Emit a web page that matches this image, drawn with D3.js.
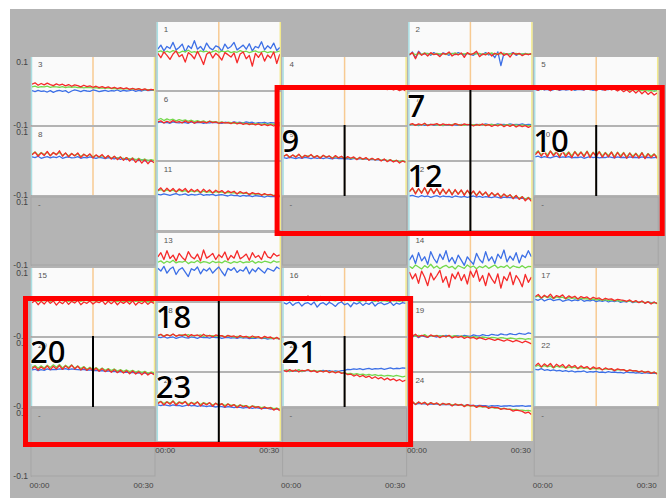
<!DOCTYPE html>
<html>
<head>
<meta charset="utf-8">
<script src="https://cdn.jsdelivr.net/npm/d3@7"></script>
<style>
  body { margin: 0; background: #fff; }
  svg { display: block; font-family: "Liberation Sans", Arial, sans-serif; }
</style>
</head>
<body>
<div id="chart"></div>
<script>
// Trellis layout: panel id per column, top to bottom (null = empty "-" panel)
const columns = [
  [3, 8, null, 15, 20, null],
  [1, 6, 11, 13, 18, 23],
  [4, 9, null, 16, 21, null],
  [2, 7, 12, 14, 19, 24],
  [5, 10, null, 17, 22, null],
];
const timeTicks = ["00:00", "00:30"];
const yTicks = [-0.1, 0.1];
const sampleSeconds = 45;

// marked panels (black line at 00:15 + big number)
const markerGroups = [[9], [7, 12], [10], [20], [18, 23], [21]];
const boxGroups = [[9, 7, 12, 10], [20, 18, 23, 21]];

// values in thousandths, panel 1..24
const red = [
  [8,-5,12,2,-10,6,15,-2,4,-18,10,3,-8,14,-4,-25,5,12,-6,8,0,-12,10,4,-3,9,-20,6,12,-8,2,-30,8,-4,10,-15,3,-6,12,-22,5],
  [4,10,-8,12,2,8,0,10,4,6,-2,8,5,12,0,6,3,9,-4,10,4,7,14,-2,6,3,10,0,8,4,11,2,7,-3,9,5,8,1,6,4,7],
  [20,24,17,22,18,23,19,16,21,17,20,15,19,14,18,16,12,17,13,15,11,14,10,13,9,12,8,11,7,10,6,9,5,8,4,7,3,6,2,5,3],
  [10,7,12,8,11,6,10,9,12,7,11,8,10,6,12,9,11,7,10,8,12,9,7,11,8,10,6,12,8,10,7,11,5,9,4,8,3,6,1,5,0],
  [6,2,8,4,7,1,9,5,3,8,4,6,2,9,5,7,3,8,4,6,1,7,5,2,8,3,6,0,5,-2,4,-4,3,-6,2,-8,0,-10,-3,-12,-6],
  [12,15,9,14,10,16,11,13,9,15,10,14,8,13,11,12,9,14,10,12,8,11,9,10,7,11,6,9,5,8,4,7,3,6,2,5,1,4,0,3,0],
  [4,7,2,6,3,8,1,5,4,7,2,6,3,5,1,7,4,2,6,3,5,0,4,2,6,1,4,-1,3,0,5,-2,3,-1,4,-3,2,-2,1,-4,0],
  [18,26,14,24,16,28,15,25,18,30,14,24,12,22,15,24,10,20,13,21,9,18,12,19,8,16,6,14,4,12,2,10,0,8,-4,6,-6,4,-8,2,-5],
  [13,19,10,18,11,20,9,17,12,19,10,16,8,17,11,15,7,16,9,14,6,13,8,12,4,11,5,10,2,8,3,7,0,6,-2,4,-3,2,-6,0,-4],
  [18,28,14,27,12,29,15,26,11,28,13,25,10,27,14,26,12,28,10,25,13,27,11,24,12,26,9,25,11,24,8,23,10,22,9,24,7,21,10,20,8],
  [16,24,13,23,14,22,12,21,15,22,11,20,13,19,10,20,12,18,9,17,11,16,8,15,10,14,6,13,8,11,4,10,6,8,2,7,3,5,0,4,-1],
  [12,24,6,22,8,25,5,23,7,22,4,21,6,20,3,19,5,18,2,17,4,15,0,14,2,12,-2,10,0,8,-5,6,-3,4,-8,2,-10,-2,-14,-5,-16],
  [30,42,22,48,25,35,18,40,28,20,45,30,24,38,18,50,26,32,40,22,36,28,44,20,34,26,48,24,30,38,20,42,28,34,22,46,30,26,40,32,36],
  [-15,-35,-20,-48,-12,-30,-55,-18,-38,-25,-10,-45,-28,-60,-20,-35,-15,-40,-22,-50,-12,-30,-8,-42,-25,-55,-18,-35,-48,-20,-62,-28,-40,-15,-52,-25,-38,-58,-22,-45,-30],
  [-2,4,-8,2,-6,5,-4,3,-9,1,-5,4,-7,2,-3,5,-8,0,-4,3,-6,1,-2,4,-7,2,-5,3,-8,1,-4,2,-6,3,-9,0,-5,2,-7,1,-4],
  [12,6,16,8,14,4,15,10,18,7,13,5,16,9,12,3,14,8,11,2,13,7,10,4,15,6,12,3,9,5,14,2,10,6,8,1,12,4,9,3,7],
  [16,22,12,20,14,23,11,19,15,21,10,18,13,17,9,16,12,15,8,14,10,12,6,11,8,9,4,8,6,5,2,6,0,4,-2,3,-4,1,-6,0,-5],
  [4,8,1,7,3,9,2,6,4,8,0,7,3,6,1,8,2,5,0,6,3,4,-1,5,1,3,-2,4,0,2,-3,3,-1,1,-4,2,-2,0,-6,-1,-7],
  [6,2,8,0,5,3,-1,6,2,4,-2,3,0,5,-3,1,-1,2,-4,0,-3,-1,-6,-2,-5,-8,-4,-7,-10,-6,-9,-12,-8,-11,-14,-10,-13,-17,-12,-16,-20],
  [10,16,6,15,8,18,7,17,9,19,8,18,10,20,9,17,6,14,5,12,3,11,2,10,1,8,-1,7,-2,5,-3,4,-5,3,-6,1,-8,0,-9,-2,-8],
  [5,1,7,2,6,0,5,3,7,1,4,-1,3,0,4,-2,2,-3,1,-4,-2,-8,-6,-12,-8,-14,-10,-16,-12,-19,-14,-20,-16,-23,-18,-24,-20,-26,-22,-28,-24],
  [18,26,15,24,17,25,13,23,16,22,12,21,14,19,10,18,12,16,8,15,10,13,6,12,8,10,4,9,6,7,2,6,3,4,0,3,-2,2,-4,0,-6],
  [10,16,6,15,8,17,5,14,9,16,4,13,7,15,3,12,6,13,2,11,4,10,0,9,2,7,-2,6,0,4,-4,3,-2,1,-6,0,-4,-2,-9,-4,-11],
  [10,16,7,15,9,14,6,13,8,12,5,11,7,10,3,9,5,8,1,7,3,5,-1,4,1,2,-4,0,-2,-2,-7,-4,-6,-7,-12,-9,-11,-13,-18,-15,-22],
];
const green = [
  [12,15,10,14,11,16,13,9,14,12,17,11,13,10,15,12,14,9,13,16,11,14,12,15,10,13,11,16,12,14,10,13,15,11,12,14,10,13,11,12,14],
  [6,8,4,7,5,9,6,7,5,8,6,7,4,8,6,9,5,7,6,8,5,7,6,8,4,7,6,9,5,7,6,8,5,7,6,8,5,6,7,6,5],
  [12,14,11,13,12,14,11,13,12,11,13,10,12,11,12,10,11,9,11,10,9,10,8,9,8,9,7,8,6,7,6,7,5,6,5,6,4,5,4,4,3],
  [9,11,8,10,9,12,8,10,11,9,8,10,9,11,8,10,9,12,10,8,9,11,10,8,9,10,8,11,9,10,8,9,10,8,9,10,7,9,8,9,8],
  [5,7,4,8,6,5,7,4,6,8,5,7,6,4,8,5,7,6,4,7,5,8,6,4,7,5,6,3,7,4,6,2,5,3,4,1,3,0,2,-1,1],
  [18,22,16,21,17,20,15,19,16,18,14,17,13,16,12,15,11,14,12,13,10,12,9,11,10,8,10,7,9,6,8,5,7,6,5,7,4,6,5,4,5],
  [3,5,2,4,3,6,2,4,5,3,4,2,5,3,4,6,3,4,2,5,3,4,2,5,3,4,3,5,2,4,3,2,4,3,2,3,1,3,2,1,2],
  [20,27,17,25,19,26,16,24,20,25,17,23,15,22,16,21,13,20,14,19,12,17,11,16,9,15,8,13,7,12,5,10,4,9,3,8,2,6,1,4,2],
  [15,18,12,17,13,19,11,16,14,17,12,15,10,16,12,14,9,13,10,12,8,11,7,10,6,9,5,8,4,7,3,6,2,5,1,3,0,2,-1,1,-2],
  [22,30,18,29,17,30,19,28,16,29,18,27,15,28,17,27,16,29,14,26,17,28,15,25,16,27,13,26,15,25,12,24,14,23,13,25,11,22,14,21,12],
  [15,19,13,18,14,17,12,17,13,16,11,15,12,15,10,14,11,13,9,13,10,12,8,11,9,10,7,9,8,8,6,7,5,6,4,5,3,4,2,3,2],
  [14,22,9,21,10,23,8,21,9,20,7,19,8,18,6,17,7,16,5,15,6,13,3,12,4,10,1,9,2,7,-2,5,-1,3,-5,1,-7,-2,-10,-4,-12],
  [14,18,11,17,13,20,12,16,14,18,10,15,13,19,12,16,14,11,17,13,15,12,18,14,11,16,13,17,12,15,14,18,11,16,13,17,15,12,18,14,16],
  [2,-4,6,0,-6,4,-2,8,-3,3,-5,1,5,-2,2,-6,4,0,-4,6,-1,3,-5,2,-2,4,-4,1,6,-3,2,-1,5,-4,3,0,-2,4,-3,2,1],
  [4,6,2,5,3,7,2,5,4,6,3,5,2,4,3,6,2,5,4,3,5,2,4,3,5,2,4,3,1,4,2,3,1,4,2,3,1,3,0,2,1],
  [6,4,8,3,7,5,9,4,6,8,5,3,7,6,4,8,5,3,6,4,7,5,3,6,4,2,5,3,6,4,2,5,3,4,2,5,3,4,2,4,3],
  [14,18,11,17,13,16,10,15,12,14,9,13,11,12,8,11,9,10,7,9,6,8,5,7,4,6,3,5,2,4,1,3,0,2,-1,1,-2,0,-3,-2,-4],
  [5,7,3,6,4,8,3,5,6,4,7,3,5,4,6,2,5,3,4,2,4,3,1,3,2,0,2,1,-1,1,0,-2,0,-1,-3,-1,-2,-4,-3,-5,-4],
  [4,6,2,5,3,7,1,4,3,5,2,4,1,3,2,4,0,3,1,2,-1,1,0,-2,0,-1,-3,-1,-2,-4,-2,-3,-5,-3,-4,-6,-4,-5,-7,-5,-6],
  [14,19,11,18,12,20,13,21,14,22,12,20,13,21,11,18,10,16,8,14,7,13,6,12,5,10,4,9,3,7,2,6,1,5,0,3,-1,2,-3,0,-2],
  [4,6,2,5,3,7,2,4,6,3,5,2,4,1,3,0,2,-1,1,-2,-3,-5,-4,-7,-5,-8,-6,-9,-7,-10,-8,-11,-9,-12,-10,-11,-13,-10,-12,-14,-12],
  [16,20,14,19,15,18,12,17,14,16,11,15,12,14,10,13,11,12,8,11,9,10,7,9,8,8,5,7,6,6,3,5,4,3,1,2,0,1,-2,-1,-3],
  [13,17,10,16,11,18,9,15,12,16,8,14,10,15,7,13,9,12,6,11,7,10,4,9,5,7,2,6,3,4,0,3,1,1,-2,0,-3,-1,-5,-3,-6],
  [12,15,9,14,10,13,8,12,9,11,7,10,8,9,6,8,7,6,4,5,3,4,1,2,0,1,-2,-1,-3,-3,-5,-4,-6,-6,-8,-7,-9,-9,-11,-10,-12],
];
const blue = [
  [20,32,15,28,22,40,18,25,35,12,30,22,45,20,28,16,38,24,18,30,26,14,35,22,28,40,18,25,32,20,36,15,28,24,42,18,30,22,38,16,25],
  [2,12,-6,14,4,6,8,2,10,5,3,9,6,2,8,4,10,6,3,8,5,2,9,6,4,10,3,7,-5,12,-28,8,4,6,10,2,7,5,8,4,6],
  [1,-2,2,-1,0,-3,1,-4,0,2,-1,1,-5,0,3,1,-2,2,0,-1,3,1,-2,0,2,-1,1,0,3,-1,2,0,1,3,-1,2,0,3,1,2,2],
  [8,10,6,9,11,7,9,8,10,6,9,11,8,7,10,9,8,6,10,9,7,11,8,9,10,7,9,8,11,10,8,9,10,12,9,10,8,11,9,10,9],
  [4,2,6,3,5,1,4,6,2,5,3,4,6,2,5,4,3,6,5,2,4,6,3,5,4,7,5,3,6,4,5,7,4,6,5,3,6,4,5,3,4],
  [10,12,9,11,8,12,10,9,11,10,8,12,9,10,11,8,10,9,11,10,9,8,11,10,9,12,10,11,9,12,10,11,8,10,9,11,8,10,9,8,9],
  [2,4,3,1,4,2,3,5,2,3,4,1,3,2,4,3,2,5,3,4,2,3,5,4,3,6,4,5,3,6,4,5,3,6,4,5,4,6,3,5,4],
  [12,10,14,8,11,13,9,12,10,14,8,11,12,9,10,13,8,11,9,12,10,8,11,9,7,10,8,6,9,5,8,4,6,3,5,1,4,0,2,-1,1],
  [10,8,11,9,7,10,8,11,9,7,10,8,9,7,10,8,6,9,7,8,6,7,5,8,6,7,5,6,4,5,3,4,2,3,1,2,0,1,-1,0,-2],
  [12,14,10,13,11,9,12,14,10,12,11,13,9,11,10,12,8,11,13,10,12,9,11,10,13,11,9,12,10,11,9,12,10,11,9,12,10,11,9,10,11],
  [5,3,6,4,2,5,7,3,4,6,2,5,3,4,6,2,4,3,5,1,3,4,2,0,3,1,2,-1,2,0,1,-2,1,0,-1,-3,0,-2,-1,-3,-2],
  [0,2,-1,-3,1,-2,0,-4,-1,1,-3,0,-2,-1,-4,0,-2,-3,-1,-4,-2,0,-3,-1,-4,-2,-3,-5,-2,-4,-6,-3,-5,-4,-6,-5,-7,-6,-8,-7,-8],
  [-4,-12,2,-18,-6,0,-22,-8,-2,-15,-28,-5,-10,0,-20,-6,-12,-3,-18,-8,0,-14,-26,-4,-10,-2,-16,-8,-12,0,-20,-6,-14,-2,-10,-18,-4,-8,-12,0,-6],
  [20,35,10,42,18,30,8,45,25,12,38,22,48,15,28,10,35,20,5,30,18,8,40,22,12,45,18,30,10,38,25,50,15,32,20,42,12,35,28,48,30],
  [10,8,12,7,9,11,8,10,13,9,7,10,8,11,9,7,10,8,6,9,7,8,5,7,6,8,4,6,5,7,4,6,3,5,4,6,3,5,2,4,3],
  [-2,-6,0,-10,-3,-1,-12,-4,-2,-8,0,-15,-5,-2,-9,-1,-6,-13,-3,0,-8,-4,-14,-2,-6,-1,-10,-3,-7,0,-12,-4,-2,-8,-5,0,-10,-3,-6,-2,-4],
  [8,5,10,3,7,9,4,6,8,2,5,7,3,6,4,8,2,5,3,6,1,4,2,5,0,3,1,4,-1,2,0,3,-2,1,-1,2,-3,0,-2,-1,-3],
  [0,-2,1,-3,-1,0,-4,-1,1,-2,-3,0,-1,-4,0,-2,-1,-3,0,-2,-1,-4,-2,-1,-3,-2,-4,-1,-3,-2,-5,-3,-4,-2,-5,-3,-6,-4,-5,-3,-6],
  [2,0,4,-2,3,1,-1,4,2,0,3,1,5,2,0,4,3,1,5,3,2,6,4,3,7,5,4,8,6,5,9,7,6,10,8,7,11,9,8,12,10],
  [6,8,4,7,5,9,6,8,7,9,8,10,7,9,8,7,6,8,5,6,4,5,3,4,2,3,1,2,0,1,-1,0,-2,-1,-2,-3,-2,-3,-4,-3,-4],
  [3,5,1,4,2,6,1,3,5,2,4,1,3,5,2,4,1,3,2,4,5,8,7,9,8,10,7,9,11,8,10,9,11,8,10,12,9,11,10,12,11],
  [8,6,10,5,7,4,6,3,5,2,4,1,3,0,2,1,3,-1,1,0,2,-1,0,-2,1,-1,0,-2,-1,-3,0,-2,-1,-3,-2,-4,-2,-3,-4,-3,-5],
  [6,4,7,5,3,6,4,5,2,4,6,3,5,2,4,3,1,3,2,0,2,1,-1,1,0,-2,0,-1,-3,-1,-2,-4,-2,-3,-5,-3,-4,-6,-5,-6,-7],
  [10,12,8,11,9,10,7,9,8,9,6,8,7,8,5,7,6,6,4,6,5,5,3,5,4,4,2,4,3,4,2,3,3,4,2,3,3,4,2,3,3],
];

// ---- layout ----
const W = 672, H = 499;
const colLeft = 31, colStep = 125.8, colW = 124;
const colTop = [57, 22, 57, 22, 57];
const slotH = 70, panelH = 68;

const t0 = new Date(Date.UTC(2000, 0, 1, 0, 0));
const t30 = new Date(Date.UTC(2000, 0, 1, 0, 30));
const t15 = new Date(Date.UTC(2000, 0, 1, 0, 15));

const svg = d3.select("#chart").append("svg")
  .attr("width", W).attr("height", H);

svg.append("rect")
  .attr("x", 10).attr("y", 9).attr("width", 656).attr("height", 489)
  .attr("fill", "#b3b3b3");

const defs = svg.append("defs");

// build cells
const cells = [];
columns.forEach((col, c) => {
  const x0 = colLeft + c * colStep;
  const x = d3.scaleUtc().domain([t0, t30]).range([x0 + 1, x0 + colW - 1]);
  col.forEach((id, s) => {
    const top = colTop[c] + s * slotH + (s >= 3 ? 1 : 0);
    const y = d3.scaleLinear().domain([-0.1, 0.1]).range([top + panelH, top]);
    cells.push({ id, c, s, x0, top, x, y });
  });
});
const cellById = new Map(cells.filter((d) => d.id).map((d) => [d.id, d]));

// y axes on the first column
cells.filter((d) => d.c === 0).forEach((d) => {
  const ax = svg.append("g")
    .attr("transform", `translate(${d.x0},0)`)
    .call(d3.axisLeft(d.y).tickValues(yTicks).tickSize(0).tickPadding(3)
      .tickFormat((v) => String(v)));
  ax.select(".domain").attr("stroke", "#9a9a9a");
  ax.selectAll("text")
    .style("font-size", "8.5px")
    .attr("fill", "#444")
    .attr("dy", (v) => (v > 0 ? "0.85em" : "0.3em"));
});

// panels
const series = [
  { data: blue, color: "#3c6fe6" },
  { data: green, color: "#74d94c" },
  { data: red, color: "#f52a2a" },
];

cells.forEach((d) => {
  const g = svg.append("g");
  if (!d.id) {
    g.append("rect")
      .attr("x", d.x0).attr("y", d.top).attr("width", colW).attr("height", panelH)
      .attr("fill", "#b4b4b4").attr("stroke", "#a5a5a5");
    g.append("text")
      .attr("x", d.x0 + 7).attr("y", d.top + 10)
      .style("font-size", "8px").attr("fill", "#555").text("-");
    return;
  }
  g.append("rect")
    .attr("x", d.x0).attr("y", d.top).attr("width", colW).attr("height", panelH)
    .attr("fill", "#fafafa");
  g.append("line")
    .attr("x1", d.x0 + 0.5).attr("x2", d.x0 + 0.5).attr("y1", d.top).attr("y2", d.top + panelH)
    .attr("stroke", "#a9dfe3").attr("stroke-width", 1.5);
  g.append("line")
    .attr("x1", d.x0 + colW - 0.5).attr("x2", d.x0 + colW - 0.5).attr("y1", d.top).attr("y2", d.top + panelH)
    .attr("stroke", "#f2e98c").attr("stroke-width", 1.5);
  g.append("line")
    .attr("x1", d.x(t15)).attr("x2", d.x(t15)).attr("y1", d.top).attr("y2", d.top + panelH)
    .attr("stroke", "#f7ca92").attr("stroke-width", 1.5);
  g.append("text")
    .attr("x", d.x0 + 7).attr("y", d.top + 10)
    .style("font-size", "8px").attr("fill", "#555").text(d.id);

  const clipId = `clip-${d.id}`;
  defs.append("clipPath").attr("id", clipId)
    .append("rect").attr("x", d.x0 + 1).attr("y", d.top)
    .attr("width", colW - 2).attr("height", panelH);

  const line = d3.line()
    .x((v, i) => d.x(new Date(t0.getTime() + i * sampleSeconds * 1000)))
    .y((v) => d.y(v / 1000));

  series.forEach((sr) => {
    g.append("path")
      .attr("clip-path", `url(#${clipId})`)
      .attr("d", line(sr.data[d.id - 1]))
      .attr("fill", "none")
      .attr("stroke", sr.color)
      .attr("stroke-width", 1.3)
      .attr("stroke-linejoin", "round");
  });
});

// x axes under every column
columns.forEach((col, c) => {
  const last = cells.filter((d) => d.c === c).slice(-1)[0];
  const ax = svg.append("g")
    .attr("transform", `translate(0,${last.top + panelH + 2})`)
    .call(d3.axisBottom(last.x).tickValues([t0, t30]).tickSize(0).tickPadding(4)
      .tickFormat((v, i) => timeTicks[i]));
  ax.select(".domain").remove();
  ax.selectAll("text")
    .style("font-size", "8px")
    .attr("fill", "#444")
    .attr("text-anchor", (v, i) => (i === 0 ? "start" : "end"))
    .attr("dx", (v, i) => (i === 0 ? "-3" : "-1"));
});

// black markers at 00:15 and big labels
markerGroups.forEach((grp) => {
  const a = cellById.get(grp[0]);
  const b = cellById.get(grp[grp.length - 1]);
  svg.append("line")
    .attr("x1", a.x(t15)).attr("x2", a.x(t15))
    .attr("y1", a.top - 2).attr("y2", b.top + panelH + 1)
    .attr("stroke", "#000").attr("stroke-width", 2);
  grp.forEach((id) => {
    const d = cellById.get(id);
    svg.append("text")
      .attr("x", d.x0 - 1).attr("y", d.top + 25)
      .style("font-family", "'Noto Sans', 'DejaVu Sans', sans-serif")
      .style("font-size", "31px")
      .style("font-weight", "500")
      .attr("fill", "#000")
      .attr("stroke", "#fff").attr("stroke-width", 1.5)
      .style("paint-order", "stroke")
      .text(id);
  });
});

// red highlight boxes
boxGroups.forEach((grp) => {
  const cs = grp.map((id) => cellById.get(id));
  const xMin = d3.min(cs, (d) => d.x0) - 5.5;
  const xMax = d3.max(cs, (d) => d.x0 + colW) + 4;
  const yMin = d3.min(cs, (d) => d.top) - 4.5;
  const yMax = d3.max(cs, (d) => d.top + panelH) + 3.5;
  svg.append("rect")
    .attr("x", xMin).attr("y", yMin)
    .attr("width", xMax - xMin).attr("height", yMax - yMin)
    .attr("fill", "none").attr("stroke", "#ff0000").attr("stroke-width", 5);
});
</script>
</body>
</html>
